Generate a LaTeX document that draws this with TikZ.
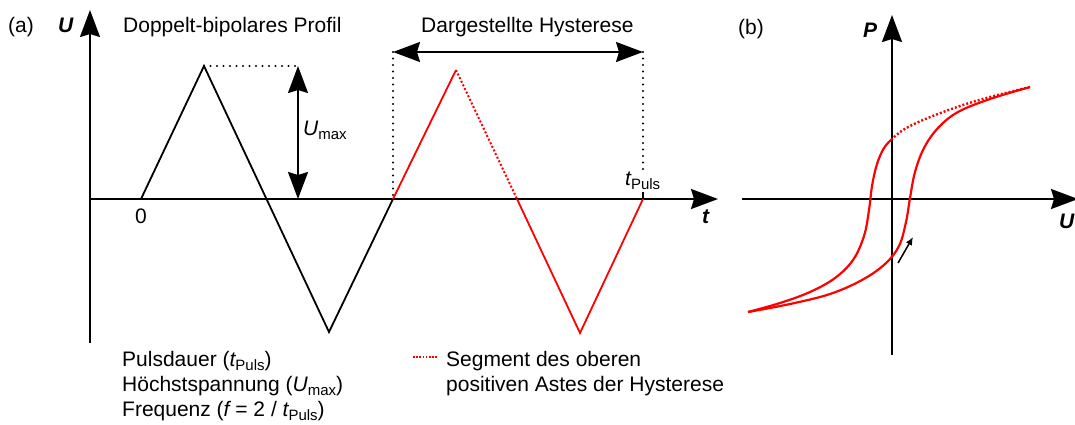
\documentclass[tikz,border=0pt]{standalone}
\usepackage{fontspec}
\setmainfont{Liberation Sans}
\usetikzlibrary{arrows.meta}
\newcommand{\lsub}[1]{\raisebox{-4pt}{\fontsize{15}{15}\selectfont #1}}
\begin{document}
\begin{tikzpicture}[x=1pt,y=-1pt,
  txt/.style={font=\fontsize{21}{26}\selectfont, inner sep=0pt, anchor=base west},
  axlab/.style={txt, font=\fontsize{21}{26}\selectfont\bfseries\itshape},
  axis/.style={line width=2pt, -{Stealth[length=27pt,width=20pt,inset=3pt]}},
  dbl/.style={line width=2pt, {Stealth[length=27pt,width=20pt,inset=3pt]}-{Stealth[length=27pt,width=20pt,inset=3pt]}},
  wave/.style={line width=1.8pt},
  kdot/.style={line width=2.3pt, dash pattern=on 0pt off 6.5pt, line cap=round},
  rdot/.style={red, line width=2pt, dash pattern=on 2pt off 2pt},
  hyst/.style={red, line width=2.2pt},
]
\useasboundingbox (0,0) rectangle (1075,424);

% ---------- panel (a) ----------
\coordinate (ay0) at (90,343);
\coordinate (ay1) at (90,10);
\coordinate (ax0) at (90,199);
\coordinate (ax1) at (718,199);
\draw[axis] (ay0) -- (ay1);
\draw[axis] (ax0) -- (ax1);

\coordinate (w0) at (141,199);
\coordinate (w1) at (204,66);
\coordinate (w2) at (329,332);
\coordinate (w3) at (393,199);
\coordinate (w4) at (456,70);
\coordinate (w5) at (517,199);
\coordinate (w6) at (580,333);
\coordinate (w7) at (643,199);

\coordinate (um0) at (298,66);
\coordinate (um1) at (298,199);
\coordinate (d0) at (393,52);
\coordinate (d1) at (643,52);
\coordinate (tp) at (643,170);
\coordinate (tk) at (643,192);

\draw[kdot] (w1) -- (um0);
\draw[kdot] (d0) -- (w3);
\draw[kdot] (d1) -- (tp);
\draw[dbl] (um1) -- (um0);
\draw[dbl] (d0) -- (d1);
\draw[line width=1.5pt] (tk) -- (w7);

\draw[wave] (w0) -- (w1) -- (w2) -- (w3);
\draw[wave,red] (w3) -- (w4);
\draw[rdot] (w4) -- (w5);
\draw[wave,red] (w5) -- (w6) -- (w7);

\node[txt] (la) at (8,32) {(a)};
\node[axlab] (lU) at (58,32) {U};
\node[txt] (ttl) at (123,32) {Doppelt-bipolares Profil};
\node[txt] (hys) at (421,32) {Dargestellte Hysterese};
\node[txt] (umax) at (303,135) {\itshape U\upshape\lsub{max}};
\node[txt, anchor=base] (zero) at (141,223) {0};
\node[axlab] (lt) at (702,223) {t};
\node[txt] (tpuls) at (625,185) {\itshape t\upshape\lsub{Puls}};

\node[txt] (b1) at (122,366) {Pulsdauer (\itshape t\upshape\lsub{Puls})};
\node[txt] (b2) at (122,391) {Höchstspannung (\itshape U\upshape\lsub{max})};
\node[txt] (b3) at (122,416) {Frequenz (\itshape f\upshape{} = 2 / \itshape t\upshape\lsub{Puls})};

\coordinate (lg0) at (413,357);
\coordinate (lg1) at (437,357);
\draw[red, line width=1.6pt, dash pattern=on 1.6pt off 1.6pt] (lg0) -- (lg1);
\node[txt] (g1) at (446,366) {Segment des oberen};
\node[txt] (g2) at (446,391) {positiven Astes der Hysterese};

% ---------- panel (b) ----------
\coordinate (by0) at (892,355);
\coordinate (by1) at (892,15);
\coordinate (bx0) at (742,199);
\coordinate (bx1) at (1078,199);
\draw[axis] (by0) -- (by1);
\draw[axis] (bx0) -- (bx1);

\node[txt] (lb) at (738,34) {(b)};
\node[axlab] (lP) at (863,37) {P};
\node[axlab] (lU2) at (1059,228) {U};

\draw[hyst] plot[smooth, tension=0.6] coordinates {(748,312) (790,304) (830,294) (862,280) (885,264) (899,246) (906,222) (910,198) (915,172) (924,148) (938,128) (958,112) (990,99) (1030,87)};
\draw[hyst] plot[smooth, tension=0.6] coordinates {(892,139) (884,148) (877,164) (872,186) (869,210) (864,236) (853,260) (835,278) (810,292) (780,303) (748,312)};
\draw[rdot, line width=2.4pt] plot[smooth, tension=0.6] coordinates {(1030,87) (990,97) (957,107) (923,120) (903,130) (892,139)};

\coordinate (ar0) at (898,263);
\coordinate (ar1) at (913,237);
\draw[line width=1.5pt, -{Latex[length=8pt,width=7pt]}] (ar0) -- (ar1);
\end{tikzpicture}
\end{document}
